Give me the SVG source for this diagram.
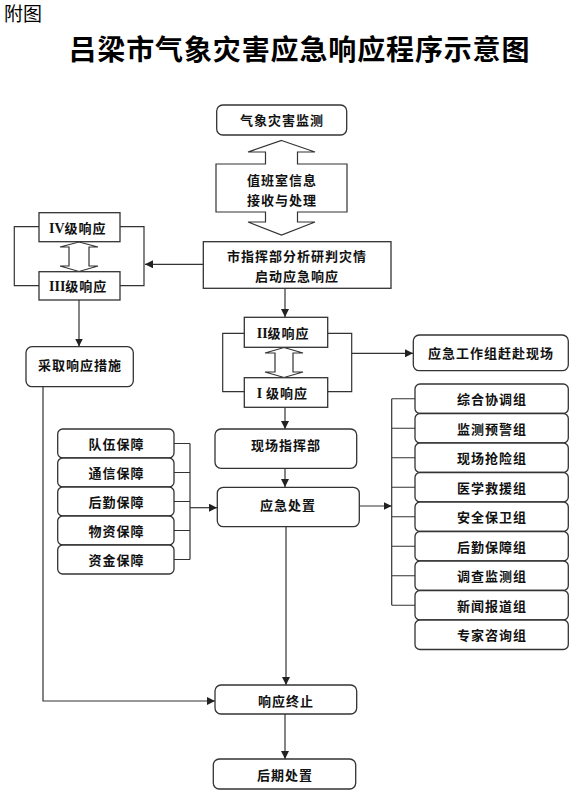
<svg xmlns="http://www.w3.org/2000/svg" width="587" height="804" viewBox="0 0 587 804">
<defs>
<style>
.bx{fill:#fff;stroke:#333;stroke-width:1.3}
.ha{fill:#fff;stroke:#333;stroke-width:1.2}
.ln{fill:none;stroke:#333;stroke-width:1.2}
.ar{fill:none;stroke:#333;stroke-width:1.2;marker-end:url(#ah)}
.t{font-family:"Noto Sans CJK SC","Noto Sans CJK TC",sans-serif;font-weight:bold;font-size:13px;letter-spacing:1px;fill:#111;text-anchor:middle}
.ts{text-anchor:start}
.rn{font-family:"Liberation Serif",serif;font-weight:bold;font-size:14px;letter-spacing:0}
</style>
<marker id="ah" markerWidth="8" markerHeight="8" refX="8" refY="4" orient="auto" markerUnits="userSpaceOnUse">
<path d="M0,0 L8,4 L0,8 z" fill="#222"/>
</marker>
</defs>
<rect width="587" height="804" fill="#fff"/>
<text x="4" y="21" font-family="Noto Sans CJK SC,sans-serif" font-size="19" fill="#000">附图</text>
<text x="299" y="60" font-family="Noto Sans CJK SC,sans-serif" font-weight="bold" font-size="28" fill="#000" text-anchor="middle" textLength="461" lengthAdjust="spacing">吕梁市气象灾害应急响应程序示意图</text>

<g id="connectors">
<path class="ar" d="M203,264.3 H145"/>
<path class="ln" d="M39,226.7 H14.3 V285.7 H39"/>
<path class="ln" d="M120,226.7 H144 V285.7 H120"/>
<path class="ar" d="M79,300 V346.5"/>
<path class="ar" d="M285,288.3 V317"/>
<path class="ln" d="M244.3,333.3 H222.7 V391.7 H244.3"/>
<path class="ln" d="M327.7,333.3 H351.7 V391.7 H327.7"/>
<path class="ar" d="M351.7,353.3 H413"/>
<path class="ar" d="M285,407.3 V429"/>
<path class="ar" d="M285,468.3 V487"/>
<path class="ln" d="M174,443.5 H190 M174,472.5 H190 M174,501.5 H190 M174,530.5 H190 M174,559.5 H190 M190,443.5 V559.5"/>
<path class="ar" d="M190,507.7 H217"/>
<path class="ar" d="M359.3,506 H391.7"/>
<path class="ln" d="M391.7,398.75 V605.25 M391.7,398.75 H415 M391.7,428.25 H415 M391.7,457.75 H415 M391.7,487.25 H415 M391.7,516.75 H415 M391.7,546.25 H415 M391.7,575.75 H415 M391.7,605.25 H415"/>
<path class="ar" d="M286,526.7 V685"/>
<path class="ar" d="M43,386.7 V701 H215"/>
<path class="ar" d="M285,714 V759"/>
</g>

<g id="n_monitor">
<rect class="bx" x="216.7" y="105" width="130" height="30" rx="6"/>
<text class="t" x="282" y="125">气象灾害监测</text>
</g>

<g id="n_duty">
<polygon class="ha" points="281.5,140.5 315,152 297.5,152 297.5,164 347,164 347,212 297.5,212 297.5,222 315,222 281.5,235 248,222 265.5,222 265.5,212 216,212 216,164 265.5,164 265.5,152 248,152"/>
<text class="t" x="282" y="185">值班室信息</text>
<text class="t" x="282" y="204.5">接收与处理</text>
</g>

<g id="n_hq">
<rect class="bx" x="203.3" y="241.7" width="187.7" height="46.6"/>
<text class="t" x="297" y="260.7">市指挥部分析研判灾情</text>
<text class="t" x="297" y="280.5">启动应急响应</text>
</g>

<g id="n_lv4">
<rect class="bx" x="39" y="212.7" width="81" height="29"/>
<text class="t ts" x="49" y="232.5"><tspan class="rn">IV</tspan>级响应</text>
</g>
<g id="n_lv3">
<rect class="bx" x="39" y="271.7" width="81" height="28.3"/>
<text class="t ts" x="49" y="290.5"><tspan class="rn">III</tspan>级响应</text>
</g>
<g id="a_lv43">
<polygon class="ha" points="79,242 98,247 89,247 89,266 98,266 79,271.5 60,266 69,266 69,247 60,247"/>
</g>

<g id="n_measures">
<rect class="bx" x="26" y="346.7" width="107.3" height="40" rx="6"/>
<text class="t" x="80" y="370">采取响应措施</text>
</g>

<g id="n_lv2">
<rect class="bx" x="244.3" y="317.3" width="83.4" height="30"/>
<text class="t ts" x="256.7" y="338"><tspan class="rn">II</tspan>级响应</text>
</g>
<g id="n_lv1">
<rect class="bx" x="244.3" y="377.7" width="83.4" height="29.6"/>
<text class="t ts" x="256.7" y="397.5"><tspan class="rn">I</tspan> 级响应</text>
</g>
<g id="a_lv21">
<polygon class="ha" points="284,347.5 303,353 293,353 293,372 303,372 284,377.5 265,372 275,372 275,353 265,353"/>
</g>

<g id="n_team">
<rect class="bx" x="413.3" y="335" width="155" height="35.7" rx="6"/>
<text class="t" x="491" y="357.7">应急工作组赶赴现场</text>
</g>

<g id="n_site">
<rect class="bx" x="215" y="429" width="141.7" height="39.3" rx="6"/>
<text class="t" x="286" y="450">现场指挥部</text>
</g>

<g id="n_handle">
<rect class="bx" x="217.3" y="487.3" width="142" height="39.4" rx="6"/>
<text class="t" x="288" y="510">应急处置</text>
</g>

<g id="n_support">
<rect class="bx" x="57.7" y="429" width="116.3" height="29" rx="5"/>
<text class="t" x="116.5" y="448.5">队伍保障</text>
<rect class="bx" x="57.7" y="458" width="116.3" height="29" rx="5"/>
<text class="t" x="116.5" y="477.5">通信保障</text>
<rect class="bx" x="57.7" y="487" width="116.3" height="29" rx="5"/>
<text class="t" x="116.5" y="506.5">后勤保障</text>
<rect class="bx" x="57.7" y="516" width="116.3" height="29" rx="5"/>
<text class="t" x="116.5" y="535.5">物资保障</text>
<rect class="bx" x="57.7" y="545" width="116.3" height="29" rx="5"/>
<text class="t" x="116.5" y="564.5">资金保障</text>
</g>

<g id="n_groups">
<rect class="bx" x="415" y="384" width="153.3" height="29.5" rx="5"/>
<text class="t" x="492" y="404">综合协调组</text>
<rect class="bx" x="415" y="413.5" width="153.3" height="29.5" rx="5"/>
<text class="t" x="492" y="433.5">监测预警组</text>
<rect class="bx" x="415" y="443" width="153.3" height="29.5" rx="5"/>
<text class="t" x="492" y="463">现场抢险组</text>
<rect class="bx" x="415" y="472.5" width="153.3" height="29.5" rx="5"/>
<text class="t" x="492" y="492.5">医学救援组</text>
<rect class="bx" x="415" y="502" width="153.3" height="29.5" rx="5"/>
<text class="t" x="492" y="522">安全保卫组</text>
<rect class="bx" x="415" y="531.5" width="153.3" height="29.5" rx="5"/>
<text class="t" x="492" y="551.5">后勤保障组</text>
<rect class="bx" x="415" y="561" width="153.3" height="29.5" rx="5"/>
<text class="t" x="492" y="581">调查监测组</text>
<rect class="bx" x="415" y="590.5" width="153.3" height="29.5" rx="5"/>
<text class="t" x="492" y="610.5">新闻报道组</text>
<rect class="bx" x="415" y="620" width="153.3" height="29.5" rx="5"/>
<text class="t" x="492" y="640">专家咨询组</text>
</g>

<g id="n_end">
<rect class="bx" x="215" y="685" width="141.7" height="29" rx="6"/>
<text class="t" x="286" y="706">响应终止</text>
</g>

<g id="n_post">
<rect class="bx" x="213.3" y="759" width="142.4" height="30" rx="6"/>
<text class="t" x="285" y="779.5">后期处置</text>
</g>
</svg>
